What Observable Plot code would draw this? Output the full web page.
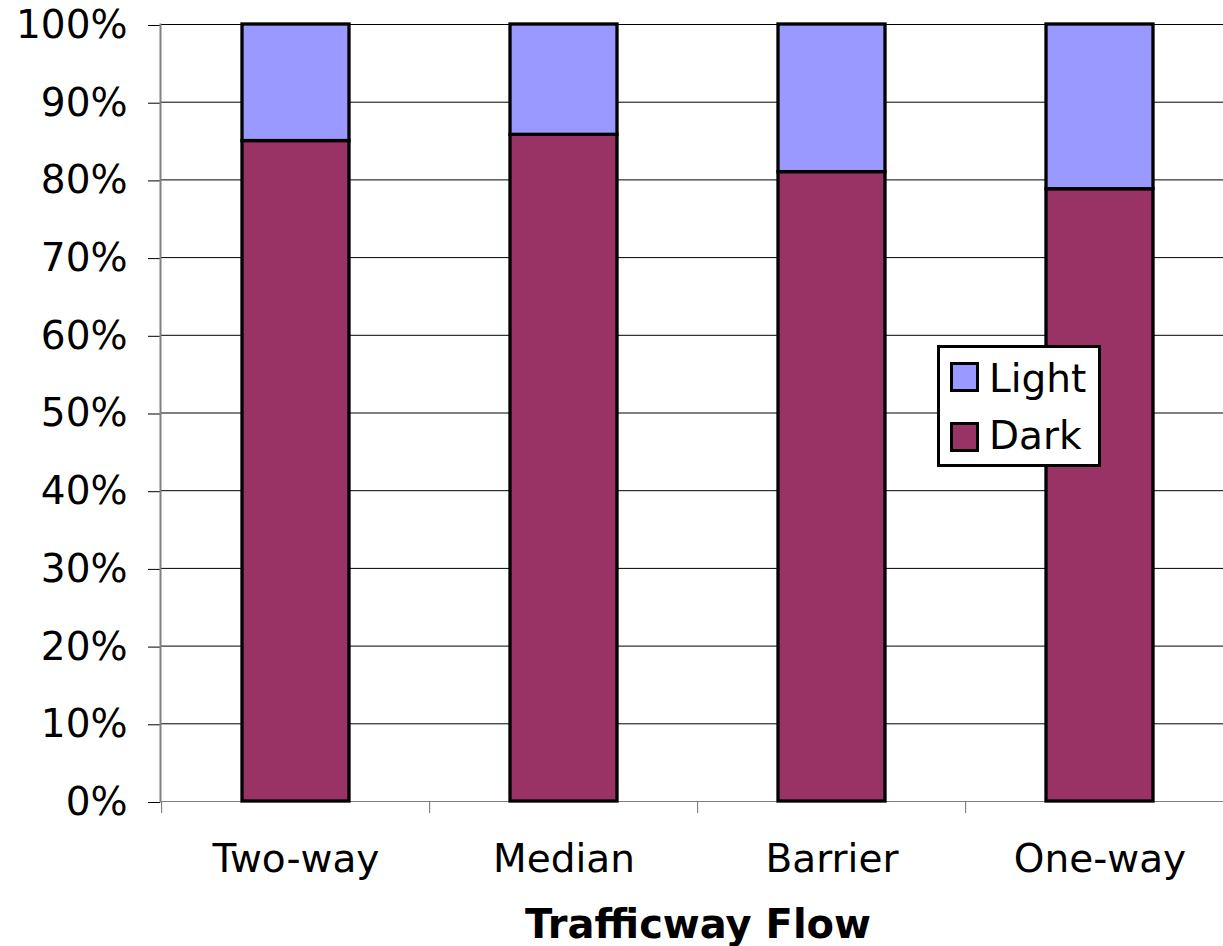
<!DOCTYPE html>
<html>
<head>
<meta charset="utf-8">
<script src="https://cdn.jsdelivr.net/npm/d3@7"></script>
<script src="https://cdn.jsdelivr.net/npm/@observablehq/plot@0.6"></script>
<style>
  html, body { margin: 0; padding: 0; background: #fff; overflow: hidden; }
  #wrap { position: relative; width: 1223px; height: 946px; overflow: hidden; }
  #wrap svg { max-width: none !important; }
  #legend { position: absolute; left: 937px; top: 345px; }
</style>
</head>
<body>
<div id="wrap"></div>
<script>
const categories = ["Two-way", "Median", "Barrier", "One-way"];
const series = ["Dark", "Light"];
const darkValues = [85.0, 85.8, 81.0, 78.8];
const lightValues = [15.0, 14.2, 19.0, 21.2];
const colors = ["#993366", "#9999FF"];
const yTicks = [0, 10, 20, 30, 40, 50, 60, 70, 80, 90, 100];
const xTitle = "Trafficway Flow";

const rows = [];
categories.forEach((c, i) => {
  rows.push({category: c, series: "Dark", value: darkValues[i]});
  rows.push({category: c, series: "Light", value: lightValues[i]});
});

const W = 1235, H = 946, mL = 160, mR = 0, mT = 24, mB = 145;
const step = (W - mL - mR) / categories.length;
const font = "'DejaVu Sans', Verdana, sans-serif";

const chart = Plot.plot({
  width: W,
  height: H,
  marginLeft: mL,
  marginRight: mR,
  marginTop: mT,
  marginBottom: mB,
  style: {fontFamily: font, fontSize: "39px", color: "#000", background: "#fff", maxWidth: "none"},
  x: {domain: categories, paddingInner: 0.6, paddingOuter: 0.3, align: 0.5},
  y: {domain: [0, 100]},
  color: {domain: series, range: colors},
  marks: [
    Plot.gridY(yTicks, {stroke: "#000", strokeOpacity: 1, strokeWidth: 1}),
    Plot.axisY(yTicks, {tickSize: 12, tickPadding: 21, stroke: "#000", strokeOpacity: 1, tickFormat: d => d + "%", fontSize: 39, label: null, dy: 1}),
    Plot.axisX({tickSize: 12, text: null, dx: -step / 2, stroke: "#6e6e6e", strokeOpacity: 1, label: null}),
    Plot.axisX({tickSize: 0, tickPadding: 43, fontSize: 39, label: null}),
    Plot.ruleY([0], {stroke: "#808080", strokeWidth: 1.2}),
    Plot.frame({anchor: "left", stroke: "#808080", strokeWidth: 2}),
    Plot.barY(rows, Plot.stackY({x: "category", y: "value", fill: "series", order: null, stroke: "#000", strokeWidth: 3.3})),
    Plot.text([xTitle], {frameAnchor: "bottom", dy: 124, lineAnchor: "middle", fontSize: 40, fontWeight: "bold", fill: "#000"})
  ]
});
document.getElementById("wrap").appendChild(chart);

// Legend
const lg = d3.select("#wrap").append("svg")
  .attr("id", "legend").attr("width", 164).attr("height", 122)
  .style("font-family", font);
lg.append("rect").attr("x", 1.5).attr("y", 1.5).attr("width", 161).attr("height", 119)
  .attr("fill", "#fff").attr("stroke", "#000").attr("stroke-width", 3);
const legendItems = [
  {label: "Light", color: colors[1], y: 18.5, base: 47},
  {label: "Dark", color: colors[0], y: 78.5, base: 104}
];
legendItems.forEach(it => {
  lg.append("rect").attr("x", 14.5).attr("y", it.y).attr("width", 26).attr("height", 27)
    .attr("fill", it.color).attr("stroke", "#000").attr("stroke-width", 3);
  lg.append("text").attr("x", 52).attr("y", it.base).attr("font-size", 39).attr("fill", "#000").text(it.label);
});
</script>
</body>
</html>
